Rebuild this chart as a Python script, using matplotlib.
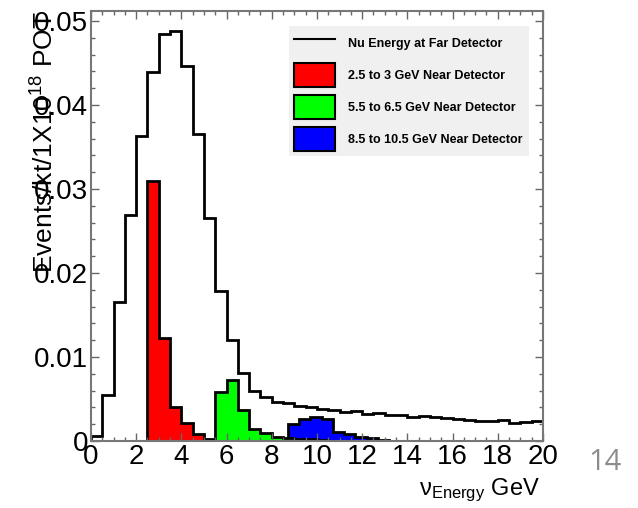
"""
Far detector neutrino energy spectrum with predicted contributions from
three near detector energy slices.
"""

import numpy as np
import matplotlib

matplotlib.use("Agg")
import matplotlib.pyplot as plt
from matplotlib.lines import Line2D
from matplotlib.patches import Patch

plt.rcParams["font.family"] = ["Liberation Sans", "DejaVu Sans"]
plt.rcParams["mathtext.fontset"] = "custom"
plt.rcParams["mathtext.rm"] = "Liberation Sans"
plt.rcParams["mathtext.it"] = "Liberation Sans:italic"
plt.rcParams["mathtext.bf"] = "Liberation Sans:bold"

# 0.5 GeV bins from 0 to 20 GeV
far_edges = np.arange(0.0, 20.01, 0.5)
far_counts = [
    0.0006, 0.0055, 0.0166, 0.0269, 0.0363, 0.0439, 0.0485, 0.0488, 0.0446, 0.0366,
    0.0265, 0.0179, 0.0120, 0.0081, 0.0059, 0.0052, 0.0047, 0.0045, 0.0042, 0.0040,
    0.0038, 0.0037, 0.0035, 0.0036, 0.0032, 0.0033, 0.0031, 0.0031, 0.0029, 0.0030,
    0.0029, 0.0027, 0.0026, 0.0025, 0.0024, 0.0024, 0.0025, 0.0022, 0.0023, 0.0024,
]

red_edges = np.arange(2.5, 5.51, 0.5)
red_counts = [0.0310, 0.0123, 0.0041, 0.0021, 0.0008, 0.0002]

green_edges = np.arange(5.5, 10.51, 0.5)
green_counts = [0.0058, 0.0073, 0.0037, 0.0014, 0.0010, 0.0005, 0.0003, 0.0002, 0.0002, 0.0001]

blue_edges = np.arange(8.7, 13.71, 0.5)
blue_counts = [0.0020, 0.0026, 0.0029, 0.0026, 0.0011, 0.0008, 0.0005, 0.0003, 0.0001, 0.00005]

legend_labels = [
    "Nu Energy at Far Detector",
    "2.5 to 3 GeV Near Detector",
    "5.5 to 6.5 GeV Near Detector",
    "8.5 to 10.5 GeV Near Detector",
]

fig = plt.figure(figsize=(6.38, 5.08), dpi=100)
ax = fig.add_axes([0.1426, 0.1319, 0.7085, 0.8464])

ax.stairs(far_counts, far_edges, color="black", linewidth=2.0, baseline=0)
ax.stairs(red_counts, red_edges, fill=True, facecolor="#ff0000", edgecolor="black", linewidth=2.0)
ax.stairs(blue_counts, blue_edges, fill=True, facecolor="#0000ff", edgecolor="black", linewidth=2.0)
ax.stairs(green_counts, green_edges, fill=True, facecolor="#00ff00", edgecolor="black", linewidth=2.0)

ax.set_xlim(0, 20)
ax.set_ylim(0, 0.0512)
ax.set_xticks(np.arange(0, 21, 2))
ax.set_xticks(np.arange(0, 20.01, 0.5), minor=True)
ax.set_yticks([0, 0.01, 0.02, 0.03, 0.04, 0.05])
ax.set_yticklabels(["0", "0.01", "0.02", "0.03", "0.04", "0.05"])
ax.set_yticks(np.arange(0, 0.0512, 0.002), minor=True)

ax.tick_params(which="both", direction="in", top=True, right=True, color="#666666", width=1.0)
ax.tick_params(which="major", length=5.8, labelsize=20)
ax.tick_params(which="minor", length=2.9)
ax.tick_params(axis="x", pad=2)
ax.tick_params(axis="y", pad=2)

for spine in ax.spines.values():
    spine.set_color("#777777")
    spine.set_linewidth(1.5)

ax.set_ylabel(r"Events/kt/1X10$^{18}$ POT", fontsize=19, loc="top")
ax.yaxis.set_label_coords(-0.071, 1.0)
ax.set_xlabel(r"$\mathrm{\nu}_{\mathrm{Energy}}$ GeV", fontsize=17, loc="right")
ax.xaxis.set_label_coords(0.993, -0.082)

handles = [
    Line2D([], [], color="black", linewidth=1.5),
    Patch(facecolor="#ff0000", edgecolor="black", linewidth=1.5),
    Patch(facecolor="#00ff00", edgecolor="black", linewidth=1.5),
    Patch(facecolor="#0000ff", edgecolor="black", linewidth=1.5),
]
leg = ax.legend(
    handles,
    legend_labels,
    loc="upper left",
    bbox_to_anchor=(0.438, 0.663, 0.531, 0.302),
    mode="expand",
    borderaxespad=0,
    prop={"size": 9, "weight": "bold"},
    handlelength=3.3,
    handleheight=2.58,
    handletextpad=1.0,
    labelspacing=0.64,
    borderpad=0.4,
    frameon=True,
    fancybox=False,
)
leg.get_frame().set_facecolor("#f0f0f0")
leg.get_frame().set_edgecolor("none")
leg.get_frame().set_alpha(1.0)

fig.text(0.948, 0.09, "14", fontsize=21, color="#8c8c8c", family=["Open Sans", "DejaVu Sans"],
         ha="center", va="center")

fig.savefig("out.png", dpi=100)
